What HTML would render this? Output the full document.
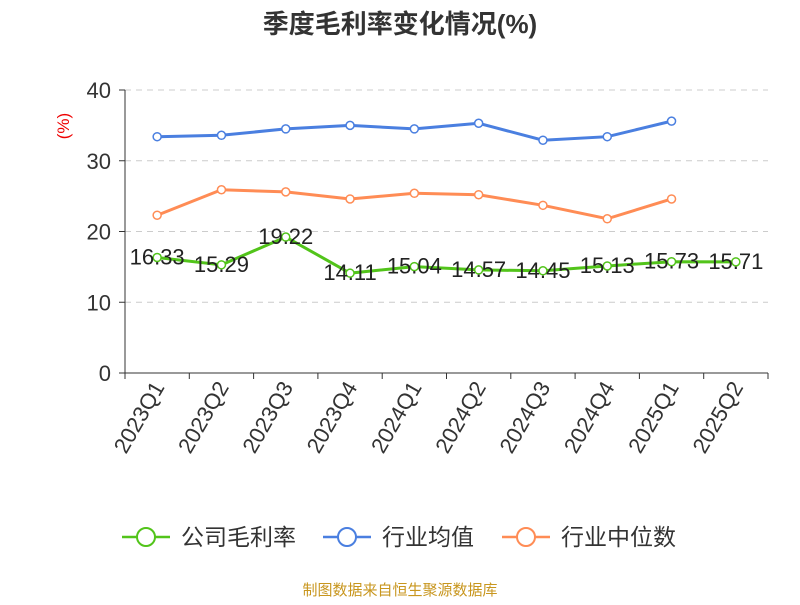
<!DOCTYPE html>
<html><head><meta charset="utf-8"><style>
body{margin:0;background:#fff;font-family:"Liberation Sans","Noto Sans CJK SC",sans-serif;}
</style></head><body>
<svg id="chart" width="800" height="600" xmlns="http://www.w3.org/2000/svg">
<text x="400" y="33" text-anchor="middle" font-size="26" font-weight="bold" fill="#333" font-family="Liberation Sans, Noto Sans CJK SC, sans-serif">季度毛利率变化情况(%)</text>
<text x="69" y="126" font-size="17" fill="#e00" transform="rotate(-90 69 126)" text-anchor="middle">(%)</text>
<g id="grid"></g><g id="axes"></g><g id="series"></g>
<g font-size="23" fill="#333" font-family="Liberation Sans, Noto Sans CJK SC, sans-serif">
<g><line x1="122" y1="537" x2="170" y2="537" stroke="#52c41a" stroke-width="2.5"/><circle cx="146" cy="537" r="9" fill="#fff" stroke="#52c41a" stroke-width="2"/><text x="181" y="545">公司毛利率</text></g>
<g><line x1="323" y1="537" x2="371" y2="537" stroke="#4a7fe0" stroke-width="2.5"/><circle cx="347" cy="537" r="9" fill="#fff" stroke="#4a7fe0" stroke-width="2"/><text x="382" y="545">行业均值</text></g>
<g><line x1="502" y1="537" x2="550" y2="537" stroke="#ff8c55" stroke-width="2.5"/><circle cx="526" cy="537" r="9" fill="#fff" stroke="#ff8c55" stroke-width="2"/><text x="561" y="545">行业中位数</text></g>
</g>
<text x="400" y="595" text-anchor="middle" font-size="15" fill="#c8961e" font-family="Liberation Sans, Noto Sans CJK SC, sans-serif">制图数据来自恒生聚源数据库</text>
</svg>
<script>
const categories=["2023Q1","2023Q2","2023Q3","2023Q4","2024Q1","2024Q2","2024Q3","2024Q4","2025Q1","2025Q2"];
const companyValues=[16.33,15.29,19.22,14.11,15.04,14.57,14.45,15.13,15.73,15.71];
const industryAvg=[33.4,33.6,34.5,35.0,34.5,35.3,32.9,33.4,35.6];
const industryMedian=[22.3,25.9,25.6,24.6,25.4,25.2,23.7,21.8,24.6];
const yTicks=[0,10,20,30,40];
const NS="http://www.w3.org/2000/svg";
const x0=125,x1=768,y0=373,yTop=90,yMax=40;
const band=(x1-x0)/categories.length;
const xs=i=>x0+band*(i+0.5);
const ys=v=>y0-(v/yMax)*(y0-yTop);
function mk(tag,attrs,parent){const e=document.createElementNS(NS,tag);for(const k in attrs)e.setAttribute(k,attrs[k]);parent.appendChild(e);return e;}
const grid=document.getElementById('grid'),axes=document.getElementById('axes'),ser=document.getElementById('series');
yTicks.forEach(t=>{
 if(t>0){const g=mk('line',{x1:x0,x2:x1,y1:ys(t),y2:ys(t),stroke:'#ccc','stroke-dasharray':'6,5'},grid);
 }
 const tk=mk('line',{x1:x0-6,x2:x0,y1:ys(t),y2:ys(t),stroke:'#333'},axes);
 
 const tx=mk('text',{x:x0-14,y:ys(t)+8,'text-anchor':'end','font-size':22,fill:'#333'},axes);tx.textContent=t;
 
});
const ya=mk('line',{x1:x0,x2:x0,y1:yTop,y2:y0,stroke:'#333'},axes);

const xa=mk('line',{x1:x0,x2:x1,y1:y0,y2:y0,stroke:'#333'},axes);

for(let i=0;i<=categories.length;i++){const t=mk('line',{x1:x0+band*i,x2:x0+band*i,y1:y0,y2:y0+6,stroke:'#333'},axes);
 }
categories.forEach((c,i)=>{const x=xs(i)+8,y=y0+14;
 const t=mk('text',{x:x,y:y,'text-anchor':'end','font-size':22,fill:'#333',transform:`rotate(-60 ${x} ${y})`},axes);t.textContent=c;
 });
function series(vals,color,name,labels){
 const g=mk('g',{},ser);
 const p=mk('polyline',{points:vals.map((v,i)=>xs(i)+','+ys(v)).join(' '),fill:'none',stroke:color,'stroke-width':3},g);
 
 vals.forEach((v,i)=>{const c=mk('circle',{cx:xs(i),cy:ys(v),r:4,fill:'#fff',stroke:color,'stroke-width':1.5},g);
  
  if(labels){const t=mk('text',{x:xs(i),y:ys(v)+7,'text-anchor':'middle','font-size':22,fill:'#222'},g);t.textContent=v.toFixed(2);
  }});
}
series(industryAvg,'#4a7fe0','industry-avg-series',false);
series(industryMedian,'#ff8c55','industry-median-series',false);
series(companyValues,'#52c41a','company-series',true);
</script>
</body></html>
